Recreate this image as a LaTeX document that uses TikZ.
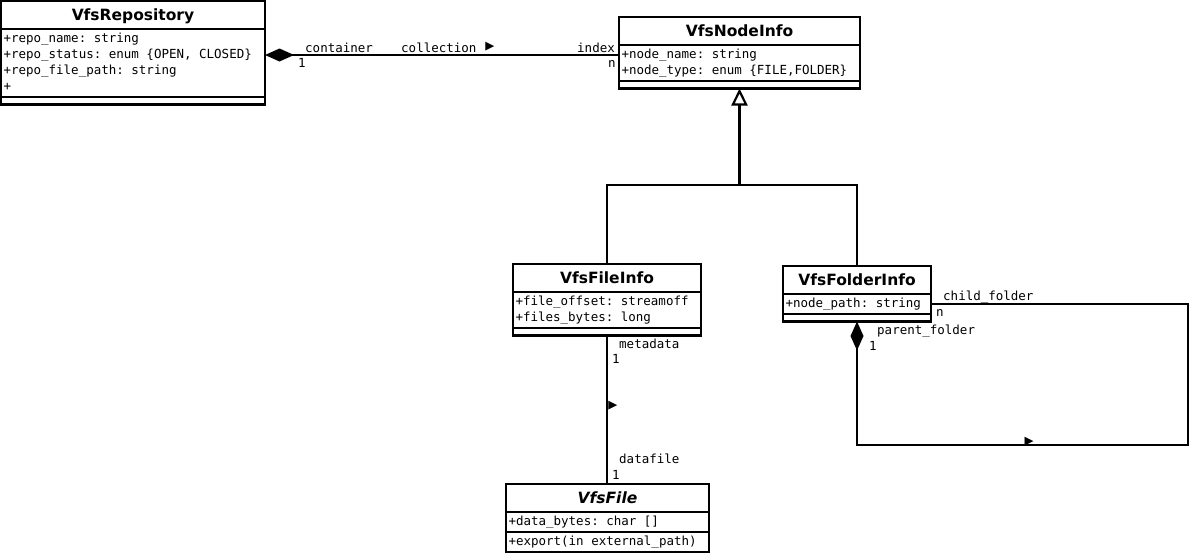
\documentclass[tikz,border=0pt]{standalone}
\usepackage{fontspec}
\setmainfont{DejaVu Sans}
\newfontfamily\umlmono{DejaVu Sans Mono}[WordSpace={1,0,0},PunctuationSpace=WordSpace]
\usetikzlibrary{arrows.meta,positioning}
\tikzset{
  clshead/.style={draw,line width=2.4pt,outer sep=0pt,inner sep=0pt,minimum width=#1,minimum height=28pt,text height=11.5pt,text depth=0pt,font=\bfseries\fontsize{15.5}{18}\selectfont},
  clsattr/.style={draw,line width=2.4pt,outer sep=0pt,inner xsep=2.5pt,inner ysep=2pt,text width=#1,align=left,font=\umlmono\fontsize{12.5}{16}\selectfont\frenchspacing,execute at begin node={\spaceskip=0pt\xspaceskip=0pt\strut},execute at end node=\strut},
  clsempty/.style={draw,line width=2.4pt,outer sep=0pt,inner sep=0pt,minimum width=#1,minimum height=7.5pt},
  lbl/.style={font=\umlmono\fontsize{12.5}{15}\selectfont,inner sep=0pt,anchor=base west},
  dirmark/.style={font=\umlmono\fontsize{15}{15}\selectfont,inner sep=0pt,anchor=center},
  assoc/.style={line width=2.2pt},
  comp/.style={line width=2.2pt,{Diamond[length=29pt,width=13pt]}-},
  gen/.style={line width=2.2pt,-{Triangle[open,length=17pt,width=16pt]}}
}
\begin{document}
\begin{tikzpicture}[x=1pt,y=-1pt]
\useasboundingbox (0,0) rectangle (1190,554);
% classes
\node[clshead=264pt,anchor=north west] (repoHead) at (1,1) {VfsRepository};
\node[clsattr=259pt,below=0pt of repoHead] (repoAttr) {+repo\_name: string\\+repo\_status: enum \{OPEN, CLOSED\}\\+repo\_file\_path: string\\+};
\node[clsempty=264pt,below=0pt of repoAttr] (repoOps) {};

\node[clshead=241pt,anchor=north west] (nodeHead) at (619,17) {VfsNodeInfo};
\node[clsattr=236pt,below=0pt of nodeHead] (nodeAttr) {+node\_name: string\\+node\_type: enum \{FILE,FOLDER\}};
\node[clsempty=241pt,below=0pt of nodeAttr] (nodeOps) {};

\node[clshead=188pt,anchor=north west] (fileHead) at (513,264) {VfsFileInfo};
\node[clsattr=183pt,below=0pt of fileHead] (fileAttr) {+file\_offset: streamoff\\+files\_bytes: long};
\node[clsempty=188pt,below=0pt of fileAttr] (fileOps) {};

\node[clshead=148pt,anchor=north west] (folderHead) at (783,266) {VfsFolderInfo};
\node[clsattr=143pt,below=0pt of folderHead] (folderAttr) {+node\_path: string};
\node[clsempty=148pt,below=0pt of folderAttr] (folderOps) {};

\node[clshead=203pt,anchor=north west] (vfsHead) at (506,484) {\itshape VfsFile};
\node[clsattr=198pt,below=0pt of vfsHead] (vfsAttr) {+data\_bytes: char []};
\node[clsattr=198pt,below=0pt of vfsAttr] (vfsOps) {+export(in external\_path)};

% relations
\draw[comp] (repoAttr.east |- 0,55) -- (nodeAttr.west |- 0,55);
\coordinate (genJoin) at (nodeOps.south |- 0,185);
\draw[assoc] (fileHead.north) |- (genJoin);
\draw[assoc] (folderHead.north) |- (genJoin);
\draw[gen] (genJoin) -- (nodeOps.south);
\draw[assoc] (fileOps.south) -- (fileOps.south |- vfsHead.north);
\coordinate (selfCorner) at (1188,445);
\draw[comp] (folderOps.south) |- (selfCorner) |- (folderAttr.east);

% labels
\node[lbl] (lblContainer) at (305,52) {container};
\node[lbl] (lblRepoMult) at (298,67) {1};
\node[lbl] (lblCollection) at (401,52) {collection};
\node[dirmark] (lblRepoDir) at (490,47) {▶};
\node[lbl] (lblIndex) at (577,52) {index};
\node[lbl] (lblNodeMult) at (608,67) {n};
\node[lbl] (lblMetadata) at (619,348) {metadata};
\node[lbl] (lblMetaMult) at (612,363) {1};
\node[dirmark] (lblFileDir) at (613,406) {▶};
\node[lbl] (lblDatafile) at (619,463) {datafile};
\node[lbl] (lblDataMult) at (612,479) {1};
\node[lbl] (lblChild) at (943,300) {child\_folder};
\node[lbl] (lblChildMult) at (936,316) {n};
\node[lbl] (lblParent) at (877,334) {parent\_folder};
\node[lbl] (lblParentMult) at (869,350) {1};
\node[dirmark] (lblFolderDir) at (1029,442) {▶};
\end{tikzpicture}
\end{document}
